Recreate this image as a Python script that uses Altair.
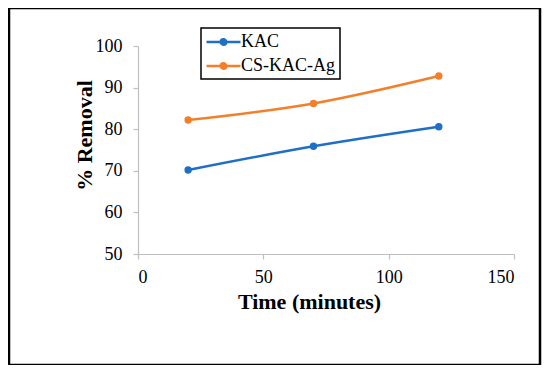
import altair as alt
import pandas as pd

times = [20, 70, 120]
kac = [70.2, 75.9, 80.6]
cs_kac_ag = [82.2, 86.2, 92.8]
series_names = ["KAC", "CS-KAC-Ag"]
colors = ["#1F6FC6", "#F47F2A"]
x_ticks = [0, 50, 100, 150]
y_ticks = [50, 60, 70, 80, 90, 100]

rows = []
for t, v in zip(times, kac):
    rows.append({"time": t, "removal": v, "series": series_names[0]})
for t, v in zip(times, cs_kac_ag):
    rows.append({"time": t, "removal": v, "series": series_names[1]})
df = pd.DataFrame(rows)

FONT = "Liberation Serif"
W, H = 376, 208

color_scale = alt.Scale(domain=series_names, range=colors)

xenc = alt.X("time:Q", scale=alt.Scale(domain=[0, 150], nice=False),
             axis=alt.Axis(values=x_ticks, title="Time (minutes)", grid=False,
                           titleX=171, titleY=37))
yenc = alt.Y("removal:Q", scale=alt.Scale(domain=[50, 100], nice=False, zero=False),
             axis=alt.Axis(values=y_ticks, title="% Removal", grid=False,
                           titleX=-42, titleY=89))

# legend symbol: a line with a filled dot (concentric strokes fill the dot)
legend_path = ("M-1,0 H3 "
               "M0.68,0 A0.32,0.32 0 1,0 1.32,0 A0.32,0.32 0 1,0 0.68,0 "
               "M0.83,0 A0.17,0.17 0 1,0 1.17,0 A0.17,0.17 0 1,0 0.83,0 "
               "M0.95,0 A0.05,0.05 0 1,0 1.05,0 A0.05,0.05 0 1,0 0.95,0")

leg = alt.Legend(title=None, orient="none", legendX=63, legendY=-18,
                 symbolType=legend_path, symbolSize=289,
                 symbolStrokeWidth=2.5, symbolOpacity=1,
                 labelFont=FONT, labelFontSize=18, labelColor="black",
                 labelOffset=16, rowPadding=5,
                 strokeColor="black",
                 padding=4, fillColor="white")

points = alt.Chart(df).mark_point(filled=True, size=55, opacity=1).encode(
    x=xenc, y=yenc,
    color=alt.Color("series:N", scale=color_scale, sort=series_names, legend=leg),
)

lines = alt.Chart(df).mark_line(interpolate="monotone", strokeWidth=2.5).encode(
    x=xenc, y=yenc,
    color=alt.Color("series:N", scale=color_scale, sort=series_names, legend=leg),
)

frame = alt.Chart(pd.DataFrame({"k": [0]})).mark_rect(
    fill=None, stroke="black", strokeWidth=2.5
).encode(x=alt.value(-129), x2=alt.value(402), y=alt.value(-38), y2=alt.value(319))

chart = alt.layer(frame, lines, points).properties(
    width=W, height=H,
    autosize=alt.AutoSizeParams(type="none"),
    padding={"left": 130, "top": 38, "right": 28, "bottom": 111},
).configure_view(stroke=None).configure_axis(
    domainColor="#BFBFBF", domainWidth=1.2, tickColor="#BFBFBF", tickWidth=1.2,
    tickSize=5, labelFont=FONT, labelFontSize=18, labelColor="black",
    titleFont=FONT, titleFontSize=22, titleFontWeight="bold", titleColor="black",
).configure_axisX(labelPadding=9).configure_axisY(labelPadding=11).configure_legend(
    strokeWidth=1.5
)

chart.save("out.html", embed_options={"renderer": "svg", "actions": False})
